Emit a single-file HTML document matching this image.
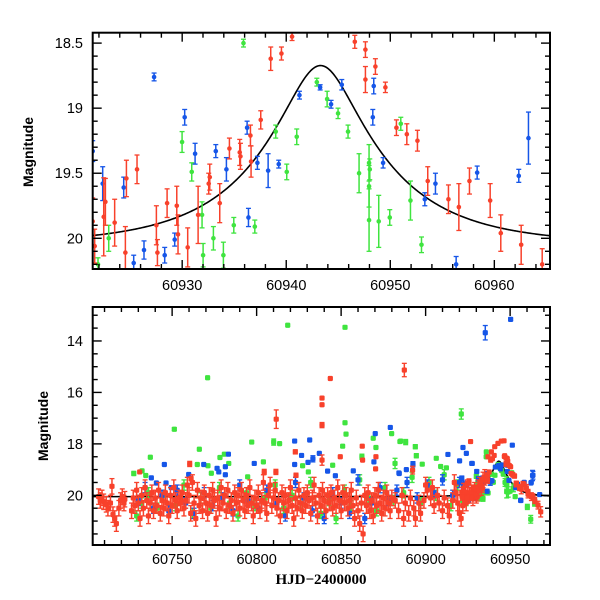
<!DOCTYPE html>
<html><head><meta charset="utf-8"><style>
html,body{margin:0;padding:0;background:#fff;}
svg{display:block;font-family:"Liberation Sans",sans-serif;}
</style></head><body>
<svg id="chart" width="600" height="600" viewBox="0 0 600 600" xmlns="http://www.w3.org/2000/svg">
<defs>
<clipPath id="clipTop"><rect x="93" y="33" width="457" height="236"/></clipPath>
<clipPath id="clipBot"><rect x="93" y="307" width="457" height="238"/></clipPath>
</defs>
<g id="topMarks" clip-path="url(#clipTop)"></g>
<g id="botMarks" clip-path="url(#clipBot)"></g>
<g id="axes"></g>
<text x="33" y="152" transform="rotate(-90 33 152)" text-anchor="middle" font-size="14" font-weight="bold">Magnitude</text>
<text x="48" y="426" transform="rotate(-90 48 426)" text-anchor="middle" font-size="14" font-weight="bold">Magnitude</text>
<text x="321" y="584" text-anchor="middle" font-size="15" font-weight="bold" font-family="Liberation Serif, serif">HJD−2400000</text>
</svg>
<script>
// ---------- data ----------
const topBlue = [[60921.40,19.33,0.08],[60927.30,18.76,0.03],[60930.24,19.07,0.06],[60922.36,19.58,0.13],[60924.38,19.61,0.08],[60931.24,19.35,0.08],[60933.23,19.33,0.05],[60934.25,19.47,0.09],[60936.24,19.15,0.05],[60937.23,19.42,0.05],[60938.26,19.48,0.13],[60939.28,19.43,0.03],[60941.27,18.90,0.03],[60943.26,18.84,0.02],[60936.37,19.84,0.07],[60929.28,20.01,0.05],[60926.33,20.09,0.07],[60928.32,20.13,0.06],[60925.34,20.19,0.06],[60944.31,18.97,0.03],[60945.34,18.82,0.04],[60948.41,18.83,0.06],[60948.32,19.07,0.06],[60949.31,19.42,0.04],[60953.32,19.70,0.05],[60954.34,19.58,0.08],[60958.35,19.495,0.05],[60962.35,19.52,0.05],[60963.28,19.23,0.2],[60956.33,20.20,0.06]];
const topRed = [[60921.40,19.87,0.18],[60922.46,19.835,0.30],[60922.62,19.72,0.18],[60923.51,19.88,0.18],[60924.64,19.54,0.14],[60925.66,19.47,0.11],[60924.54,20.11,0.2],[60927.52,19.90,0.15],[60927.62,20.11,0.1],[60928.55,19.73,0.11],[60929.48,19.75,0.15],[60929.60,19.97,0.15],[60930.53,20.07,0.15],[60931.53,19.82,0.22],[60932.55,19.58,0.08],[60932.65,19.53,0.10],[60933.61,19.73,0.15],[60934.54,19.31,0.08],[60935.53,19.34,0.10],[60935.60,19.37,0.10],[60936.56,19.21,0.08],[60936.62,19.41,0.12],[60937.55,19.09,0.07],[60938.51,18.62,0.09],[60939.54,18.58,0.05],[60940.56,18.45,0.03],[60921.59,20.06,0.13],[60946.59,18.49,0.05],[60947.61,18.55,0.06],[60947.61,18.78,0.10],[60948.57,18.68,0.06],[60949.53,18.84,0.04],[60950.59,19.15,0.06],[60951.59,19.20,0.08],[60952.61,19.25,0.08],[60953.60,19.56,0.11],[60955.59,19.70,0.11],[60956.59,19.76,0.18],[60957.61,19.56,0.10],[60959.60,19.71,0.13],[60960.62,19.96,0.14],[60962.58,20.05,0.15],[60964.60,20.20,0.12]];
const topGreen = [[60935.89,18.50,0.03],[60929.99,19.26,0.08],[60930.92,19.49,0.07],[60922.94,20.00,0.1],[60931.91,19.82,0.1],[60932.01,20.13,0.09],[60933.00,20.00,0.09],[60933.96,20.13,0.1],[60934.96,19.90,0.06],[60936.98,19.91,0.05],[60938.99,19.18,0.05],[60941.01,19.22,0.06],[60940.05,19.49,0.06],[60942.94,18.80,0.03],[60921.91,20.20,0.05],[60943.93,18.93,0.06],[60944.98,19.04,0.04],[60945.94,19.18,0.05],[60947.00,19.50,0.15],[60947.96,19.42,0.14],[60948.03,19.47,0.08],[60947.96,19.60,0.16],[60947.96,19.86,0.24],[60948.89,19.87,0.2],[60949.95,19.84,0.06],[60951.01,19.12,0.05],[60951.94,19.71,0.15],[60953.00,20.05,0.06]];

const botGreenExtra = [[60771.0,15.43,0.05],[60751.3,17.43,0.06],[60766.1,18.21,0.05],[60737.1,18.52,0.05],[60727.3,19.15,0.08],[60732.2,19.05,0.05],[60764.9,18.80,0.05],[60771.2,18.85,0.05],[60773.2,19.14,0.05],[60778.3,18.53,0.05],[60780.9,18.40,0.05],[60783.5,18.76,0.05],[60734.4,19.23,0.05],[60818.4,13.39,0.05],[60852.3,13.47,0.05],[60852.3,17.18,0.05],[60852.9,17.62,0.05],[60797.1,17.93,0.05],[60810.1,17.93,0.12],[60813.6,17.99,0.05],[60804.0,18.70,0.05],[60827.2,18.85,0.05],[60850.9,18.09,0.05],[60869.0,17.78,0.05],[60879.9,17.6,0.05],[60884.8,17.91,0.05],[60870.6,18.14,0.05],[60881.9,18.76,0.2],[60862.3,18.5,0.1],[60794.7,19.28,0.05],[60830.6,19.09,0.05],[60845.0,18.83,0.05],[60921.1,16.84,0.2],[60885.2,17.89,0.05],[60888.2,17.93,0.1],[60893.9,18.11,0.08],[60894.5,18.46,0.08],[60906.3,18.56,0.05],[60908.9,18.88,0.05],[60912.3,18.93,0.05],[60898.0,18.79,0.05],[60935.9,18.31,0.05],[60935.9,18.5,0.05],[60960.2,20.45,0.1],[60962.2,20.93,0.15],[60964.5,20.32,0.1]];
const botGreenCloudT = [60729,60732,60736,60741,60745,60752,60757,60762,60767,60773,60778,60784,60789,60794,60799,60805,60811,60816,60821,60826,60832,60838,60843,60847,60852,60856,60861,60866,60871,60876,60881,60887,60892,60897,60902,60906,60911,60915,60919,60924];
const botGreenCloudM = [20.8,20.3,19.9,20.5,20.0,20.4,19.6,20.7,20.1,20.5,19.7,20.3,20.8,19.9,20.4,20.1,19.6,20.5,20.0,20.3,19.5,20.7,20.2,20.9,19.8,20.4,19.4,20.1,20.6,19.7,20.2,19.9,19.3,20.3,19.5,20.0,19.2,20.4,19.6,20.2];

const botBlueExtra = [[60745.4,18.80,0.05],[60768.7,18.8,0.05],[60776.6,18.95,0.05],[60777.6,19.09,0.05],[60783.3,18.40,0.05],[60781.5,18.89,0.05],[60781.5,19.2,0.05],[60737.7,19.32,0.05],[60740.7,19.52,0.05],[60746.4,19.52,0.05],[60749.5,19.70,0.05],[60759.8,19.19,0.05],[60822.5,17.89,0.05],[60831.4,17.85,0.05],[60826.6,18.45,0.05],[60798.6,18.76,0.05],[60822.5,18.80,0.05],[60830.4,18.72,0.05],[60833.3,18.58,0.12],[60837.1,18.37,0.05],[60870.2,17.6,0.05],[60879.1,17.36,0.05],[60869.4,18.70,0.05],[60884.4,19.15,0.05],[60842.0,19.06,0.05],[60857.2,19.05,0.05],[60846.6,19.24,0.05],[60950.3,13.16,0.06],[60935.3,13.68,0.28],[60922.1,18.14,0.05],[60924.1,18.37,0.05],[60913.2,18.41,0.05],[60951.3,18.05,0.05],[60927.6,18.76,0.05],[60920.1,18.66,0.05],[60888.6,19.0,0.05],[60892.5,18.79,0.1],[60884.2,19.13,0.05],[60963.5,19.22,0.15],[60962.5,19.5,0.05],[60967.5,19.97,0.05],[60956.2,20.19,0.05]];
const botBlueCloudT = [60730,60734,60739,60744,60748,60753,60758,60763,60769,60774,60780,60786,60790,60795,60801,60806,60812,60817,60823,60828,60833,60840,60845,60850,60855,60860,60864,60868,60873,60878,60883,60889,60895,60901,60905,60910,60916,60920];
const botBlueCloudM = [20.2,19.7,20.5,20.0,20.6,19.8,20.3,20.7,19.9,20.4,20.1,20.6,19.6,20.2,20.5,19.8,20.3,20.8,19.5,20.1,20.6,20.9,19.9,20.3,20.7,19.4,20.9,20.3,19.7,20.2,19.8,19.5,20.1,19.6,19.9,19.4,20.0,19.5];

const botRedExtra = [[60730.8,19.09,0.05],[60760.4,18.78,0.1],[60761.2,19.35,0.08],[60843.6,15.46,0.05],[60838.7,16.22,0.05],[60838.7,16.48,0.05],[60838.7,17.27,0.1],[60811.6,17.04,0.36],[60822.9,18.31,0.08],[60838.7,18.63,0.2],[60849.5,18.50,0.05],[60862.5,18.09,0.05],[60870.6,18.5,0.05],[60870.4,18.97,0.05],[60862.7,18.63,0.05],[60804.5,19.09,0.1],[60811.4,19.09,0.1],[60823.3,19.22,0.08],[60887.4,15.13,0.26],[60926.6,17.91,0.05],[60892.3,19.02,0.15],[60936.9,18.5,0.05],[60938.9,18.31,0.05],[60940.9,18.11,0.05],[60942.8,17.98,0.05],[60944.8,17.89,0.05],[60946.4,17.88,0.05],[60946.8,18.46,0.05],[60948.3,18.57,0.05],[60950.3,18.89,0.05],[60951.7,19.22,0.05],[60953.7,19.54,0.08],[60955.6,19.67,0.08],[60958.2,19.57,0.08],[60960.6,19.87,0.1],[60963.5,20.06,0.12],[60966.5,20.38,0.15],[60968.1,20.64,0.2]];
const botRedCloudT = [60706.5,60707.5,60708.5,60709.5,60711,60712,60713.5,60714.4,60715,60716,60717,60718.5,60719.5,60720.5,60721.5,60722,
60726,60727,60728,60729,60730,60731,60732,60733,60734,60735,60736,60737,60738,60739,60740,60741,60742,60743,60744,60745,60746,60747,60748,60749,60750,60751,60752,60753,60754,60755,60756,60757,60758,60759,60760,60761,60762,60763,60764,60765,60766,60767,60768,60769,60770,60771,60772,60773,60774,60775,60776,60777,60778,60779,60780,60781,60782,60783,60784,60785,60786,60787,60788,60789,60790,60791,60792,60793,60794,60795,60796,60797,60798,60799,60800,60801,60802,60803,60804,60805,60806,60807,60808,60809,60810,60811,60812,60813,60814,60815,60816,60817,60818,60819,60820,60821,60822,60823,60824,60825,60826,60827,60828,60829,60830,60831,60832,60833,60834,60835,60836,60837,60838,60839,60840,60841,60842,60843,60844,60845,60846,60847,60848,60849,60850,60851,60852,60853,60854,60855,60856,60857,60858,60859,60860,60861,60862,60863,60864,60865,60866,60867,60868,60869,60870,60871,60872,60873,60874,60875,60876,60877,60878,60879,60880,
60882,60884,60886,60887,60888,60890,60891,60893,60894,60896,60897,60899,60900,60901,60903,60904,60905,60907,60908,60910,60911,60913,60914,60916,60917,60918,60919,60920,60921,60922,60923,60924,60925,60926,60927,60928,60929,60930,60931,60932,60933,60934,60935];
const botRedCloudM = [20.05,20.2,20.1,20.25,20.35,20.5,20.3,19.65,20.75,20.9,21.1,20.5,20.2,20.05,20.3,20.15,
20.6,20.1,20.4,19.8,20.3,20.9,20.0,20.5,19.7,20.2,20.8,20.3,19.9,20.6,20.1,20.4,19.8,20.7,20.2,20.5,19.9,20.3,20.8,20.0,20.4,19.7,20.2,20.6,20.1,20.3,19.9,20.5,20.2,19.6,20.0,20.7,19.5,20.3,20.9,19.8,20.4,20.1,20.6,19.9,20.3,20.7,20.0,20.4,19.8,20.2,20.9,20.1,20.5,19.7,20.3,20.0,20.6,19.8,20.4,20.2,20.7,19.9,20.3,20.0,20.5,19.8,20.2,20.6,20.0,20.4,19.7,20.3,20.8,20.1,20.4,19.9,20.6,20.2,19.5,20.3,20.7,20.0,19.6,20.4,20.1,19.8,20.5,20.2,20.8,19.9,20.3,20.0,20.6,20.2,19.7,20.4,20.9,20.1,20.5,19.8,20.3,20.6,20.0,20.4,19.9,20.2,20.7,20.1,19.6,20.3,20.8,20.0,20.4,19.8,20.2,20.6,20.0,20.3,19.9,20.5,20.1,20.4,19.7,20.2,20.6,19.9,20.3,20.0,20.5,20.2,19.8,20.4,20.9,20.1,20.6,21.1,20.3,21.5,20.0,20.4,19.9,20.6,20.2,20.8,20.0,20.4,19.8,20.3,20.7,20.1,20.5,19.9,20.3,20.6,20.1,
20.2,20.6,20.0,20.9,20.3,20.7,20.1,20.5,20.9,20.3,20.7,20.2,19.6,19.8,20.1,19.7,20.4,20.0,20.3,20.6,20.1,20.4,20.8,20.2,19.5,19.9,20.3,20.7,20.9,20.4,20.1,20.3,19.9,20.0,19.9,20.1,19.8,20.0,19.7,19.6,19.7,19.4,19.3];

// microlensing model parameters
const modelT0 = 60943.3, modelU0 = 0.29, modelTE = 11.5, modelM0 = 20.05;

const topXTicks = [60930,60940,60950,60960];
const topYTicks = [18.5,19,19.5,20];
const botXTicks = [60750,60800,60850,60900,60950];
const botYTicks = [14,16,18,20];

// ---------- scales ----------
const TOP = {x0:92.7,x1:550,y0:32.7,y1:269,t0:60921.4,t1:60965.35,m0:18.42,m1:20.236};
const BOT = {x0:92.7,x1:550,y0:307,y1:545,t0:60703,t1:60973.6,m0:12.68,m1:21.93};
function sx(P,t){return P.x0+(t-P.t0)/(P.t1-P.t0)*(P.x1-P.x0);}
function sy(P,m){return P.y0+(m-P.m0)/(P.m1-P.m0)*(P.y1-P.y0);}
const NS="http://www.w3.org/2000/svg";
function mk(tag,attrs,parent){const e=document.createElementNS(NS,tag);for(const k in attrs)e.setAttribute(k,attrs[k]);parent.appendChild(e);return e;}

function model(t){const tau=(t-modelT0)/modelTE;const u=Math.sqrt(modelU0*modelU0+tau*tau);const A=(u*u+2)/(u*Math.sqrt(u*u+4));return modelM0-2.5*Math.log10(A);}

const COL={red:"#f8412b",blue:"#1656e8",green:"#3fe43f"};

function drawPoint(P,g,t,m,e,color,square,name){
  const x=sx(P,t),y=sy(P,m),ye1=sy(P,m-e),ye2=sy(P,m+e);
  const grp=mk("g",{},g);
  
  
  mk("line",{x1:x,y1:ye1,x2:x,y2:ye2,stroke:color,"stroke-width":1.5},grp);
  if(ye2-ye1>3){
    mk("line",{x1:x-2.5,y1:ye1,x2:x+2.5,y2:ye1,stroke:color,"stroke-width":1.3},grp);
    mk("line",{x1:x-2.5,y1:ye2,x2:x+2.5,y2:ye2,stroke:color,"stroke-width":1.3},grp);
  }
  if(square) mk("rect",{x:x-2.6,y:y-2.6,width:5.2,height:5.2,rx:1.2,fill:color},grp);
  else mk("circle",{cx:x,cy:y,r:2.3,fill:color},grp);
}

function drawModel(P,g,name){
  let d="";
  for(let px=P.x0;px<=P.x1;px+=1){const t=P.t0+(px-P.x0)/(P.x1-P.x0)*(P.t1-P.t0);d+=(d?"L":"M")+px.toFixed(1)+","+sy(P,model(t)).toFixed(2);}
  const p=mk("path",{d:d,fill:"none",stroke:"#000","stroke-width":1.6},g);
  
  
}

// ---------- top panel ----------
const gTop=document.getElementById("topMarks");
drawModel(TOP,gTop,"top-model-curve");
topGreen.forEach(p=>drawPoint(TOP,gTop,p[0],p[1],p[2],COL.green,false,"green-point"));
topBlue.forEach(p=>drawPoint(TOP,gTop,p[0],p[1],p[2],COL.blue,false,"blue-point"));
topRed.forEach(p=>drawPoint(TOP,gTop,p[0],p[1],p[2],COL.red,false,"red-point"));

// ---------- bottom panel ----------
const gBot=document.getElementById("botMarks");
drawModel(BOT,gBot,"bottom-model-curve");
botGreenCloudT.forEach((t,i)=>drawPoint(BOT,gBot,t,botGreenCloudM[i],0.2,COL.green,true,"green-point"));
botGreenExtra.forEach(p=>drawPoint(BOT,gBot,p[0],p[1],p[2],COL.green,true,"green-point"));
topGreen.forEach(p=>drawPoint(BOT,gBot,p[0],p[1],p[2],COL.green,true,"green-point"));
botBlueCloudT.forEach((t,i)=>drawPoint(BOT,gBot,t,botBlueCloudM[i],0.2,COL.blue,true,"blue-point"));
botBlueExtra.forEach(p=>drawPoint(BOT,gBot,p[0],p[1],p[2],COL.blue,true,"blue-point"));
topBlue.forEach(p=>drawPoint(BOT,gBot,p[0],p[1],p[2],COL.blue,true,"blue-point"));
botRedCloudT.forEach((t,i)=>drawPoint(BOT,gBot,t,botRedCloudM[i],0.3,COL.red,true,"red-point"));
botRedExtra.forEach(p=>drawPoint(BOT,gBot,p[0],p[1],p[2],COL.red,true,"red-point"));
topRed.forEach(p=>drawPoint(BOT,gBot,p[0],p[1],p[2],COL.red,true,"red-point"));

// ---------- axes ----------
const gA=document.getElementById("axes");
function frame(P,name){
  const r=mk("rect",{x:P.x0,y:P.y0,width:P.x1-P.x0,height:P.y1-P.y0,fill:"none",stroke:"#000","stroke-width":2},gA);
  
  
}
function xticks(P,minStep,majStep,labels,ly){
  const start=Math.ceil(P.t0/minStep)*minStep;
  for(let t=start;t<=P.t1;t+=minStep){
    const x=sx(P,t);const maj=Math.abs(t/majStep-Math.round(t/majStep))<1e-6;const L=maj?9:5;
    mk("line",{x1:x,y1:P.y1,x2:x,y2:P.y1-L,stroke:"#000","stroke-width":1.4},gA);
    mk("line",{x1:x,y1:P.y0,x2:x,y2:P.y0+L,stroke:"#000","stroke-width":1.4},gA);
  }
  labels.forEach(t=>{const tx=mk("text",{x:sx(P,t),y:ly,"text-anchor":"middle","font-size":14.5},gA);tx.textContent=String(t);
    
    });
}
function yticks(P,minStep,majStep,labels,lx){
  const lo=Math.min(P.m0,P.m1),hi=Math.max(P.m0,P.m1);
  const start=Math.ceil(lo/minStep-1e-9)*minStep;
  for(let m=start;m<=hi;m+=minStep){
    const y=sy(P,m);const maj=Math.abs(m/majStep-Math.round(m/majStep))<1e-6;const L=maj?9:5;
    mk("line",{x1:P.x0,y1:y,x2:P.x0+L,y2:y,stroke:"#000","stroke-width":1.4},gA);
    mk("line",{x1:P.x1,y1:y,x2:P.x1-L,y2:y,stroke:"#000","stroke-width":1.4},gA);
  }
  labels.forEach(m=>{const tx=mk("text",{x:lx,y:sy(P,m)+5,"text-anchor":"end","font-size":14.5},gA);tx.textContent=String(m);
    
    });
}
frame(TOP,"top-panel-frame");
frame(BOT,"bottom-panel-frame");
xticks(TOP,2,10,topXTicks,290);
yticks(TOP,0.1,0.5,topYTicks,83);
xticks(BOT,10,50,botXTicks,564);
yticks(BOT,0.5,2,botYTicks,83);
</script>
</body></html>
